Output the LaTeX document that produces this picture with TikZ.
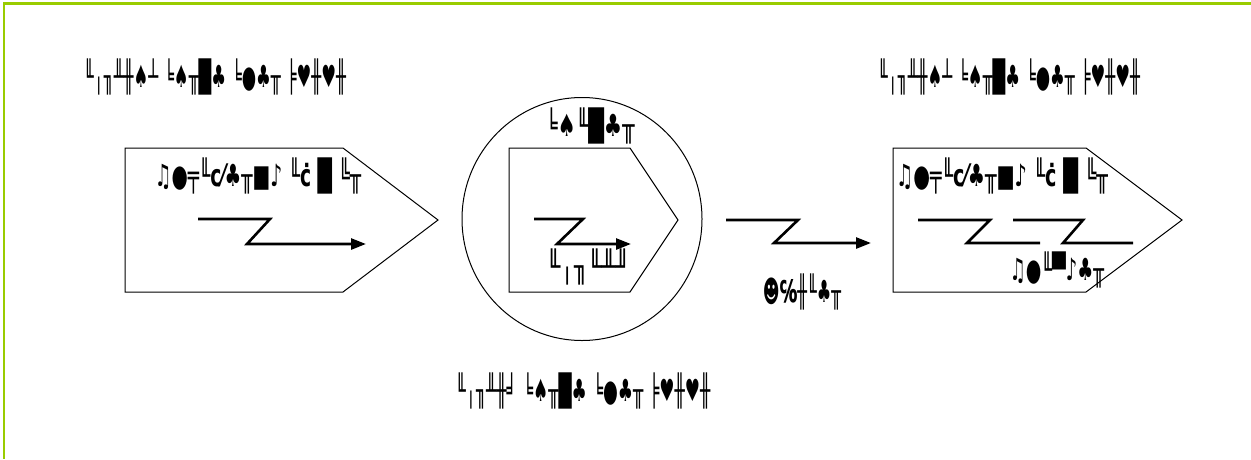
\documentclass[tikz,border=0pt]{standalone}
\usepackage{fontspec}
\setmainfont{DejaVu Sans}
\usetikzlibrary{arrows.meta,shapes.geometric}
\definecolor{framegreen}{HTML}{99CC00}
\newcommand{\glyphs}[2]{\scalebox{#1}[1.8]{#2}}
\begin{document}
\begin{tikzpicture}[x=1pt,y=-1pt,
  outline/.style={draw=black, line width=1pt},
  zz/.style={draw=black, line width=2.6pt, line join=miter},
  zza/.style={zz, -{Triangle[length=15pt,width=11pt]}},
  lbl/.style={inner sep=0pt, font=\fontsize{17}{17}\selectfont\bfseries}]
\useasboundingbox (0,0) rectangle (1251,459);
% frame
\draw[framegreen, line width=3pt] (3,3) -- (1251,3);
\draw[framegreen, line width=2pt] (4,3) -- (4,459);
% top labels
\node[lbl] (tl) at (215,77) {\glyphs{0.97}{╙╷╖╨╫♠┴ ╘♠╥█♣ ╘●♣╥ ╞♥╫♥╫}};
\node[lbl] (tr) at (1009,77) {\glyphs{0.97}{╙╷╖╨╫♠┴ ╘♠╥█♣ ╘●♣╥ ╞♥╫♥╫}};
\node[lbl] (bl) at (583,391) {\glyphs{1}{╙╷╖╨╫╛ ╘♠╥█♣ ╘●♣╥ ╞♥╫♥╫}};
% left pentagon
\draw[outline] (125,148) -- (343,148) -- (438,220) -- (343,292) -- (125,292) -- cycle;
\node[lbl] (lt) at (258,176) {\glyphs{1.1}{♫●╤╙c⁄♣╥■♪ ╙ċ █ ╚╥}};
\coordinate (la) at (198,219);
\coordinate (lb) at (366,244);
\draw[zza] (la) -- (270,219) -- (247,244) -- (lb);
% circle
\node[draw=black, line width=1pt, ellipse, minimum width=240pt, minimum height=243pt, inner sep=0pt] (circ) at (582,219) {};
\draw[outline] (509,148) -- (630,148) -- (678,220) -- (630,292) -- (509,292) -- cycle;
\node[lbl] (ct) at (590,126) {\glyphs{1.2}{╘♠╙█♣╥}};
\coordinate (ca) at (534,219);
\coordinate (cb) at (631,244);
\draw[zza] (ca) -- (583,219) -- (557,244) -- (cb);
\node[lbl] (cl) at (588,267) {\glyphs{1.35}{╙╷╖╙╨╜}};
% middle arrow
\coordinate (ma) at (726,220);
\coordinate (mb) at (871,243);
\draw[zza] (ma) -- (798,220) -- (774,243) -- (mb);
\node[lbl] (ml) at (802,292) {\glyphs{0.95}{☻℅╫╙♣╥}};
% right pentagon
\draw[outline] (893,148) -- (1086,148) -- (1182,220) -- (1086,292) -- (893,292) -- cycle;
\node[lbl] (rt) at (1002,176) {\glyphs{1.13}{♫●╤╙c⁄♣╥■♪ ╙ċ █ ╚╥}};
\coordinate (ra) at (918,220);
\coordinate (rb) at (1040,243);
\draw[zz] (ra) -- (990,220) -- (967,243) -- (rb);
\coordinate (rc) at (1013,220);
\coordinate (rd) at (1133,243);
\draw[zz] (rc) -- (1083,220) -- (1063,243) -- (rd);
\node[lbl] (rl) at (1057,270) {\glyphs{1.05}{♫●╙▀♪♣╥}};
\end{tikzpicture}
\end{document}
